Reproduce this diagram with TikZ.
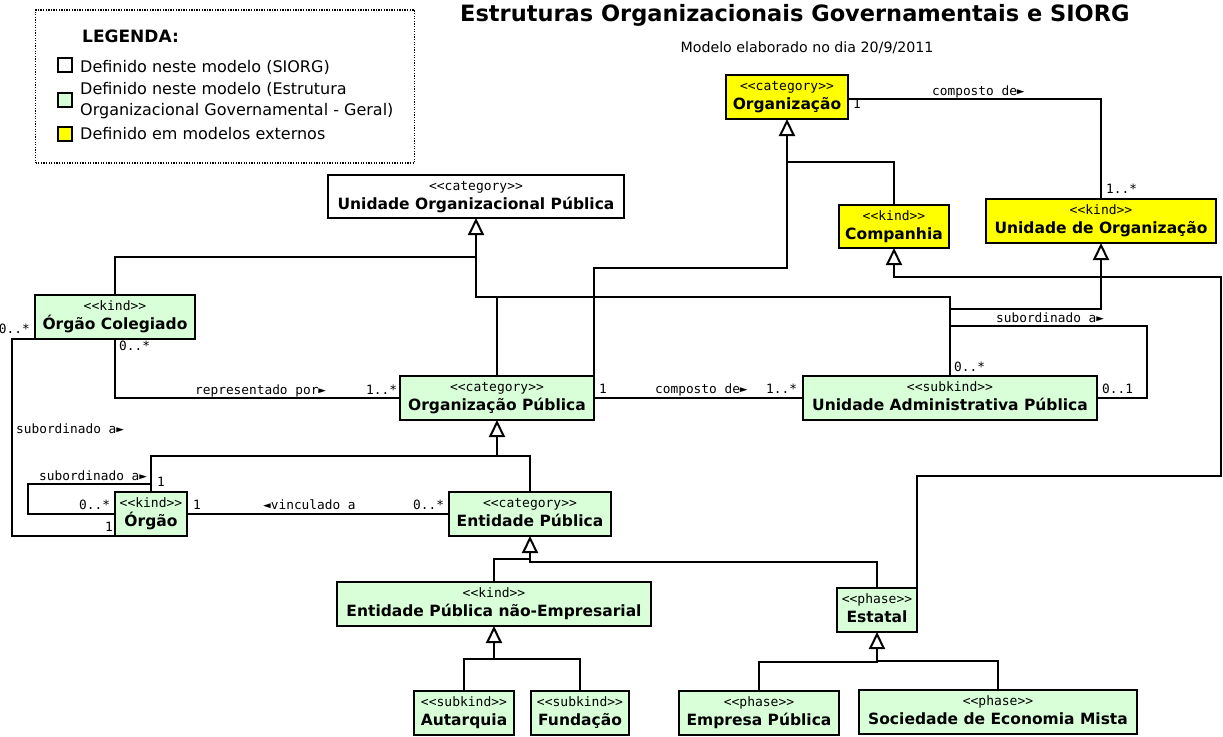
\documentclass[tikz,border=0pt]{standalone}
\usepackage{fontspec}
\setmainfont{DejaVu Sans}
\newfontfamily\monof{DejaVu Sans Mono}
\usetikzlibrary{arrows.meta}
\definecolor{lgreen}{RGB}{217,255,217}
\definecolor{yel}{RGB}{255,255,0}
\newcommand\umlbox[8]{%
  \node[#1, minimum width=#5pt, minimum height=#6pt] (#2) at (#3,#4) {};
  \node[st] (#2-st) at ([yshift=-15.2pt]#2.north) {#7};
  \node[nm] (#2-nm) at ([yshift=-34.8pt]#2.north) {#8};
}
\begin{document}
\begin{tikzpicture}[x=1pt,y=-1pt,
  box/.style={draw, line width=2pt, inner sep=0pt, outer sep=0pt},
  gbox/.style={box, fill=lgreen},
  ybox/.style={box, fill=yel},
  wbox/.style={box, fill=white},
  ln/.style={line width=2pt},
  gen/.style={ln, -{Triangle[open, length=17pt, width=16pt, line width=2pt]}},
  st/.style={font=\monof\fontsize{13}{15}\selectfont, inner sep=0pt, anchor=base},
  nm/.style={font=\bfseries\fontsize{15.5}{18}\selectfont, inner sep=0pt, anchor=base},
  lb/.style={font=\monof\fontsize{12.8}{15}\selectfont, inner sep=0pt, anchor=base west},
  lgt/.style={font=\fontsize{16}{19}\selectfont, inner sep=0pt, anchor=base west},
  sq/.style={draw, line width=2pt, minimum size=14pt, inner sep=0pt},
]
\useasboundingbox (0,0) rectangle (1223,736);
\fill[white] (0,0) rectangle (1223,736);

% title
\node[font=\bfseries\fontsize{22.5}{26}\selectfont, inner sep=0pt, anchor=base west] (title) at (460,21.7) {Estruturas Organizacionais Governamentais e SIORG};
\node[font=\fontsize{14.2}{17}\selectfont, inner sep=0pt, anchor=base] (subtitle) at (807,52.3) {Modelo elaborado no dia 20/9/2011};

% legend
\node[draw, line width=1.3pt, dash pattern=on 1.3pt off 1.3pt, minimum width=379pt, minimum height=153pt, inner sep=0pt] (legend) at (225,86.5) {};
\node[font=\bfseries\fontsize{17}{20}\selectfont, inner sep=0pt, anchor=base west] (legtitle) at (82,42.3) {LEGENDA:};
\node[sq, fill=white] (sq1) at (65,65) {};
\node[sq, fill=lgreen] (sq2) at (65,99.5) {};
\node[sq, fill=yel] (sq3) at (65,133.5) {};
\node[lgt] (lt1) at (80,72.7) {Definido neste modelo (SIORG)};
\node[lgt] (lt2) at (80,94) {Definido neste modelo (Estrutura};
\node[lgt] (lt3) at (80,115.5) {Organizacional Governamental - Geral)};
\node[lgt] (lt4) at (80,139) {Definido em modelos externos};

% boxes
\umlbox{ybox}{org}{787}{97}{122}{44}{<<category>>}{Organização}
\umlbox{ybox}{udo}{1101}{221}{230}{44}{<<kind>>}{Unidade de Organização}
\umlbox{ybox}{comp}{894}{226.5}{110}{43}{<<kind>>}{Companhia}
\umlbox{wbox}{uop}{476}{196.5}{296}{43}{<<category>>}{Unidade Organizacional Pública}
\umlbox{gbox}{ocol}{115}{317}{160}{44}{<<kind>>}{Órgão Colegiado}
\umlbox{gbox}{op}{497}{398}{194}{44}{<<category>>}{Organização Pública}
\umlbox{gbox}{uap}{950}{398}{294}{44}{<<subkind>>}{Unidade Administrativa Pública}
\umlbox{gbox}{orgao}{151}{514}{72}{44}{<<kind>>}{Órgão}
\umlbox{gbox}{ep}{530}{514}{162}{44}{<<category>>}{Entidade Pública}
\umlbox{gbox}{ene}{494}{604}{314}{44}{<<kind>>}{Entidade Pública não-Empresarial}
\umlbox{gbox}{est}{877}{610}{80}{44}{<<phase>>}{Estatal}
\umlbox{gbox}{aut}{464}{713}{100}{44}{<<subkind>>}{Autarquia}
\umlbox{gbox}{fun}{580}{713}{98}{44}{<<subkind>>}{Fundação}
\umlbox{gbox}{emp}{759}{713}{160}{44}{<<phase>>}{Empresa Pública}
\umlbox{gbox}{soc}{998}{712}{278}{44}{<<phase>>}{Sociedade de Economia Mista}

% generalizations
\draw[gen] (op.north east) |- (org.south |- 0,268) -- (org.south);
\draw[ln] (comp.north) |- (org.south |- 0,162);
\draw[gen] (ocol.north) |- (uop.south |- 0,257) -- (uop.south);
\draw[ln] (uop.south |- 0,257) |- (uap.north |- 0,297) -- (uap.north);
\draw[ln] (op.north) -- (op.north |- 0,297);
\draw[gen] (uap.north |- 0,309) -| (udo.south);
\draw[gen] (est.north east) |- (1221,476) |- (comp.south |- 0,277) -- (comp.south);
\draw[gen] (orgao.north) |- (op.south |- 0,456) -- (op.south);
\draw[ln] (ep.north) |- (op.south |- 0,456);
\draw[gen] (est.north) |- (ep.south |- 0,562) -- (ep.south);
\draw[ln] (ene.north) |- (ep.south |- 0,559);
\draw[gen] (aut.north) |- (ene.south |- 0,659) -- (ene.south);
\draw[ln] (fun.north) |- (ene.south |- 0,659);
\draw[gen] (emp.north) |- (est.south |- 0,662) -- (est.south);
\draw[ln] (soc.north) |- (est.south |- 0,661);

% associations
\draw[ln] ([yshift=-2pt]org.east) -| (udo.north);
\draw[ln] (uap.north |- 0,326) -| ([xshift=50pt]uap.east) -- (uap.east);
\draw[ln] (op.east) -- (uap.west);
\draw[ln] (ocol.south) |- (op.west);
\draw[ln] (ocol.south west) -- (12,339) |- (orgao.south west);
\draw[ln] (orgao.north) |- (28,484) |- (orgao.west);
\draw[ln] (orgao.east) -- (ep.west);

% labels
\node[lb] (l1) at (932,95) {composto de►};
\node[lb] (l2) at (853,108) {1};
\node[lb] (l3) at (1106,193) {1..*};
\node[lb] (l4) at (996,322.3) {subordinado a►};
\node[lb] (l5) at (954,371) {0..*};
\node[lb] (l6) at (1102,393.3) {0..1};
\node[lb] (l7) at (599,393.5) {1};
\node[lb] (l8) at (655,393.5) {composto de►};
\node[lb] (l9) at (766,393.5) {1..*};
\node[lb, anchor=base east] (l10) at (30,333.3) {0..*};
\node[lb] (l11) at (119,350) {0..*};
\node[lb] (l12) at (195,394) {representado por►};
\node[lb] (l13) at (366,394) {1..*};
\node[lb] (l14) at (16,433.3) {subordinado a►};
\node[lb] (l15) at (39,480) {subordinado a►};
\node[lb] (l16) at (157,486.7) {1};
\node[lb] (l17) at (79,509.3) {0..*};
\node[lb] (l18) at (105,531) {1};
\node[lb] (l19) at (193,509.3) {1};
\node[lb] (l20) at (263,509.3) {◄vinculado a};
\node[lb] (l21) at (413,509.3) {0..*};
\end{tikzpicture}
\end{document}
